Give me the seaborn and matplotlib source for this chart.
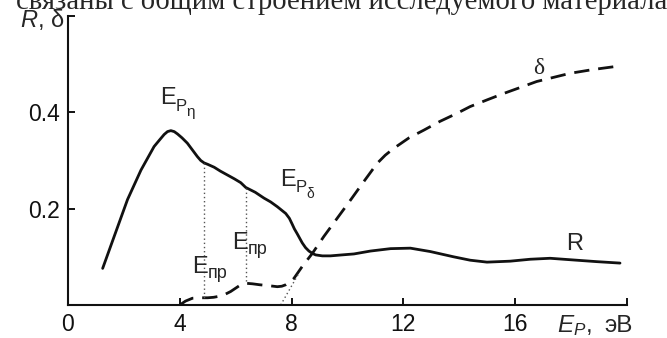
import numpy as np
import pandas as pd
import matplotlib
matplotlib.use("Agg")
import matplotlib.pyplot as plt
import seaborn as sns

# ---- data ----
r_x = [1.24, 1.65, 2.13, 2.61, 3.08, 3.28, 3.44, 3.56, 3.68, 3.80, 3.92, 4.08, 4.27, 4.45,
       4.63, 4.75, 4.87, 5.0, 5.23, 5.45, 5.70, 5.95, 6.18, 6.36, 6.7, 7.01, 7.25, 7.49, 7.79,
       7.92, 8.02, 8.10, 8.20, 8.38, 8.50, 8.62, 8.75, 8.86, 9.1, 9.39, 9.8, 10.23, 10.82,
       11.54, 12.25, 12.96, 13.80, 14.39, 14.99, 15.82, 16.54, 17.25, 18.2, 18.92, 19.75]
r_y = [0.076, 0.142, 0.219, 0.280, 0.329, 0.343, 0.354, 0.360, 0.362, 0.360, 0.355, 0.347,
       0.336, 0.322, 0.308, 0.300, 0.295, 0.292, 0.286, 0.278, 0.270, 0.262, 0.254, 0.244,
       0.234, 0.222, 0.214, 0.204, 0.190, 0.180, 0.168, 0.158, 0.148, 0.129, 0.119, 0.112,
       0.107, 0.104, 0.102, 0.102, 0.104, 0.106, 0.112, 0.117, 0.118, 0.111, 0.100, 0.093,
       0.089, 0.091, 0.095, 0.097, 0.093, 0.090, 0.087]

d_x = [4.0, 4.2, 4.45, 4.75, 5.0, 5.21, 5.40, 5.58, 5.82, 6.0, 6.18, 6.39, 6.6, 6.86, 7.2,
       7.49, 7.65, 7.79, 7.95, 8.08, 8.38, 8.74, 9.15, 9.63, 10.11, 10.58, 11.06, 11.35, 11.65,
       12.2, 12.73, 13.3, 13.92, 14.39, 15.0, 15.58, 16.2, 16.77, 17.4, 17.96, 18.8, 19.57]
d_y = [0.0, 0.008, 0.014, 0.015, 0.015, 0.016, 0.018, 0.021, 0.028, 0.035, 0.042, 0.045, 0.044,
       0.042, 0.040, 0.038, 0.039, 0.042, 0.048, 0.055, 0.080, 0.107, 0.142, 0.180, 0.218, 0.256,
       0.294, 0.311, 0.325, 0.347, 0.363, 0.381, 0.398, 0.412, 0.426, 0.439, 0.452, 0.464, 0.473,
       0.481, 0.489, 0.495]

# dotted guide lines: (x0, y0) -> (x1, y1)
guide_x0 = [4.87, 6.36, 7.61]
guide_y0 = [0.295, 0.242, 0.0]
guide_x1 = [4.87, 6.36, 8.26]
guide_y1 = [0.015, 0.045, 0.066]

x_ticks = [0, 4, 8, 12, 16, 20]
x_tick_labels = ["0", "4", "8", "12", "16", ""]
y_ticks = [0.2, 0.4, 0.6]
y_tick_labels = ["0.2", "0.4", ""]

sns.set_style("ticks")
plt.rcParams["font.family"] = ["Liberation Sans", "DejaVu Sans"]
plt.rcParams["mathtext.fontset"] = "custom"
plt.rcParams["mathtext.rm"] = "Liberation Sans"
plt.rcParams["mathtext.it"] = "Liberation Sans:italic"
plt.rcParams["mathtext.bf"] = "Liberation Sans:bold"

W, H = 667, 338
fig = plt.figure(figsize=(W / 100, H / 100), dpi=100)
ax = fig.add_axes([68 / W, 33 / H, (627 - 68) / W, (305 - 16) / H])

df_r = pd.DataFrame({"E": r_x, "v": r_y})
df_d = pd.DataFrame({"E": d_x, "v": d_y})
sns.lineplot(data=df_r, x="E", y="v", ax=ax, color="#111111", lw=2.0, sort=False)
sns.lineplot(data=df_d, x="E", y="v", ax=ax, color="#111111", lw=2.0, sort=False,
             linestyle=(0, (5.5, 3.2)))
for gx0, gy0, gx1, gy1 in zip(guide_x0, guide_y0, guide_x1, guide_y1):
    ax.plot([gx0, gx1], [gy0, gy1], color="#555555", lw=1.0, linestyle=(0, (1, 2)))

ax.set_xlim(0, 20)
ax.set_ylim(0, 0.6)
ax.set_xticks(x_ticks)
ax.set_xticklabels(x_tick_labels)
ax.set_yticks(y_ticks)
ax.set_yticklabels(y_tick_labels)
ax.set_xlabel("")
ax.set_ylabel("")
for s in ["top", "right"]:
    ax.spines[s].set_visible(False)
for s in ["left", "bottom"]:
    ax.spines[s].set_linewidth(1.5)
    ax.spines[s].set_color("#111111")
ax.tick_params(direction="in", length=5, width=1.4, labelsize=16.5, colors="#111111")
ax.tick_params(axis="x", pad=6)
ax.tick_params(axis="y", pad=6)


def px(xp, yp):
    """figure fraction from reference pixel position"""
    return xp / W, 1 - yp / H


# E_P_eta label built from pieces
fig.text(*px(160, 98), "E", fontsize=17, ha="left", va="center")
fig.text(*px(176, 106), "P", fontsize=12, ha="left", va="center")
fig.text(*px(186, 112), "η", fontsize=11, ha="left", va="center")
# E_P_delta label
fig.text(*px(280, 180), "E", fontsize=17, ha="left", va="center")
fig.text(*px(296, 188), "P", fontsize=12, ha="left", va="center")
fig.text(*px(306, 194), "δ", fontsize=10, ha="left", va="center")
# E_np labels
fig.text(*px(192, 267), "E", fontsize=17, ha="left", va="center")
fig.text(*px(208, 273), "пр", fontsize=13, ha="left", va="center")
fig.text(*px(232, 243), "E", fontsize=17, ha="left", va="center")
fig.text(*px(248, 249), "пр", fontsize=13, ha="left", va="center")

ax.text(18.14, 0.127, "R", fontsize=17, ha="center", va="center")
ax.text(16.83, 0.491, "δ", fontsize=17, ha="center", va="center", family="Liberation Serif")

fig.text(*px(64, 20), r"$R$, δ", fontsize=17, ha="right", va="center")
fig.text(*px(557, 326), r"$E_P$,", fontsize=17.5, ha="left", va="center")
fig.text(*px(604, 326), "эВ", fontsize=17.5, ha="left", va="center")

fig.text(1.0, 1 - 9 / H, "связаны с общим строением исследуемого материала",
         fontsize=20.6, ha="right", va="baseline", family="Liberation Serif")

fig.savefig("out.png", dpi=100)
